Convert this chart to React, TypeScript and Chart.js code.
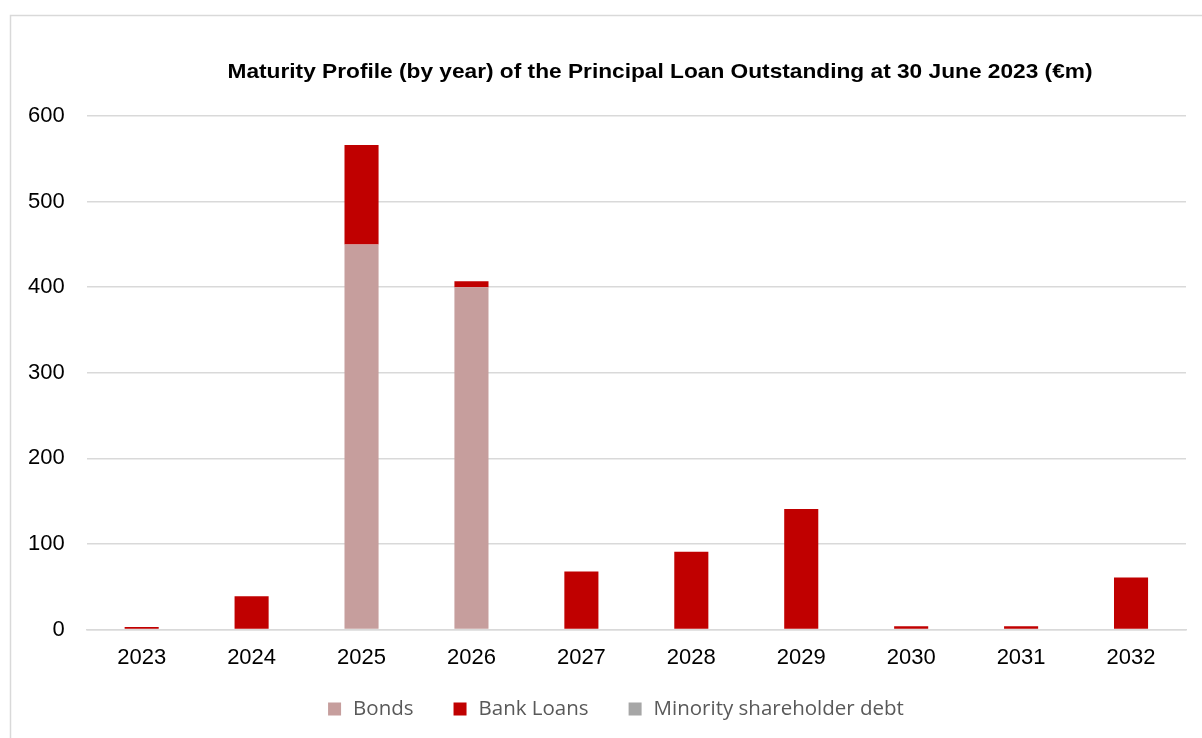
import React, { useEffect, useRef } from "react";
import { Chart, registerables } from "chart.js";

Chart.register(...registerables);

const years = ["2023", "2024", "2025", "2026", "2027", "2028", "2029", "2030", "2031", "2032"];
const bonds = [0, 0, 450, 400, 0, 0, 0, 0, 0, 0];
const bankLoans = [3, 39, 116, 7, 68, 91, 141, 4, 4, 61];
const minorityDebt = [0, 0, 0, 0, 0, 0, 0, 0, 0, 0];
const yTicks = [0, 100, 200, 300, 400, 500, 600];
const seriesNames = ["Bonds", "Bank Loans", "Minority shareholder debt"];
const seriesColors = ["#c69e9d", "#c00000", "#a6a6a6"];
const titleText = "Maturity Profile (by year) of the Principal Loan Outstanding at 30 June 2023 (€m)";

const framePlugin = {
  id: "frame",
  beforeDraw(chart: any) {
    const ctx = chart.ctx;
    ctx.save();
    ctx.fillStyle = "#ffffff";
    ctx.fillRect(0, 0, chart.width, chart.height);
    ctx.strokeStyle = "#d9d9d9";
    ctx.lineWidth = 1.5;
    ctx.strokeRect(10.5, 15.5, chart.width + 20, chart.height + 20);
    ctx.restore();
  },
  afterDraw(chart: any) {
    const ctx = chart.ctx;
    ctx.save();
    // title
    ctx.font = "bold 21px 'Liberation Sans', Arial, sans-serif";
    const w = ctx.measureText(titleText).width;
    const sx = 865 / w;
    ctx.translate(660, 72);
    ctx.scale(sx, 1);
    ctx.fillStyle = "#000000";
    ctx.textAlign = "center";
    ctx.textBaseline = "middle";
    ctx.fillText(titleText, 0, 0);
    ctx.restore();

    // legend
    ctx.save();
    ctx.font = "20.5px 'Open Sans', sans-serif";
    const box = 13;
    const boxGap = 12;
    const itemGap = 40;
    const widths = seriesNames.map((n) => ctx.measureText(n).width);
    const total = widths.reduce((a, b) => a + b + box + boxGap, 0) + itemGap * (seriesNames.length - 1);
    let x = 616 - total / 2;
    const y = 709;
    ctx.textBaseline = "middle";
    ctx.textAlign = "left";
    seriesNames.forEach((n, i) => {
      ctx.fillStyle = seriesColors[i];
      ctx.fillRect(x, y - box / 2, box, box);
      ctx.fillStyle = "#595959";
      ctx.fillText(n, x + box + boxGap, y);
      x += box + boxGap + widths[i] + itemGap;
    });
    ctx.restore();
  },
};

export default function App() {
  const ref = useRef<HTMLCanvasElement | null>(null);
  useEffect(() => {
    document.body.style.margin = "0";
    const chart = new Chart(ref.current as HTMLCanvasElement, {
      type: "bar",
      data: {
        labels: years,
        datasets: [
          { label: seriesNames[0], data: bonds, backgroundColor: seriesColors[0] },
          { label: seriesNames[1], data: bankLoans, backgroundColor: seriesColors[1] },
          { label: seriesNames[2], data: minorityDebt, backgroundColor: seriesColors[2] },
        ],
      },
      options: {
        animation: false,
        responsive: false,
        maintainAspectRatio: false,
        layout: { padding: { top: 116, left: 6, right: 16, bottom: 52 } },
        datasets: { bar: { categoryPercentage: 1, barPercentage: 0.31 } } as any,
        plugins: {
          title: { display: false },
          tooltip: { enabled: false },
          legend: { display: false },
        },
        scales: {
          x: {
            stacked: true,
            grid: { display: false, drawTicks: false },
            border: { display: true, color: "#d9d9d9", width: 1.5 },
            ticks: { color: "#000", padding: 15, font: { family: "'Liberation Sans', Arial", size: 22 } },
          },
          y: {
            stacked: true,
            min: 0,
            max: 600,
            afterBuildTicks: (axis: any) => {
              axis.ticks = yTicks.map((v) => ({ value: v }));
            },
            grid: { color: "#d9d9d9", lineWidth: 1.5, drawTicks: false },
            border: { display: false },
            ticks: { color: "#000", padding: 22, font: { family: "'Liberation Sans', Arial", size: 22 } },
          },
        },
      },
      plugins: [framePlugin],
    });
    return () => chart.destroy();
  }, []);
  return <canvas ref={ref} width={1202} height={738} style={{ display: "block" }} />;
}
